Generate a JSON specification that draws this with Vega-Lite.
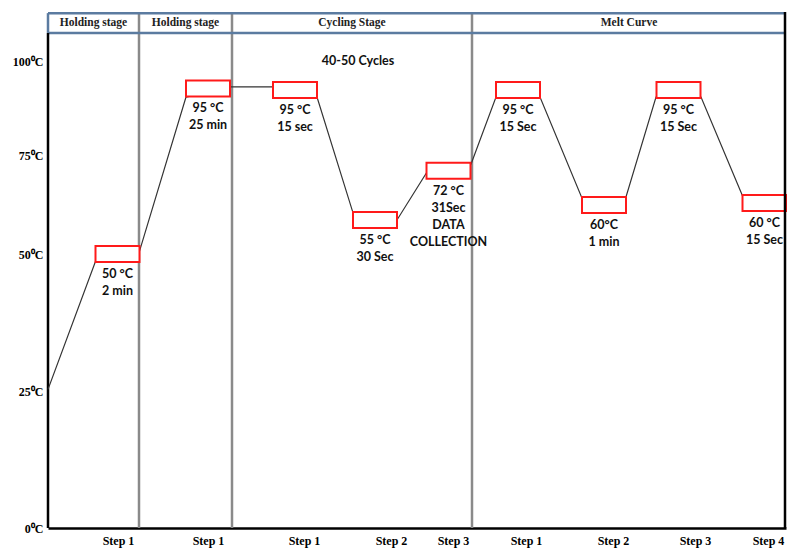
{
  "$schema": "https://vega.github.io/schema/vega-lite/v6.json",
  "width": 738,
  "height": 516,
  "autosize": {"type": "none"},
  "padding": {"left": 48, "top": 12, "right": 1, "bottom": 22},
  "background": "white",
  "config": {"view": {"stroke": null}},
  "datasets": {
    "one": [{"k": 1}],
    "stages": [
      {"start": 0, "end": 91, "mid": 45.5, "stage": "Holding stage"},
      {"start": 91, "end": 184, "mid": 137.5, "stage": "Holding stage"},
      {"start": 184, "end": 424, "mid": 304, "stage": "Cycling Stage"},
      {"start": 424, "end": 738, "mid": 581, "stage": "Melt Curve"}
    ],
    "profile": [
      {"pos": 0, "temp": 25.3},
      {"pos": 48, "temp": 48.9},
      {"pos": 91, "temp": 50.3},
      {"pos": 138, "temp": 90.4},
      {"pos": 182, "temp": 93.1},
      {"pos": 225, "temp": 93.1},
      {"pos": 269, "temp": 90.4},
      {"pos": 305, "temp": 60.4},
      {"pos": 349, "temp": 58.6},
      {"pos": 379, "temp": 70.7},
      {"pos": 423, "temp": 72.7},
      {"pos": 448, "temp": 90.4},
      {"pos": 492, "temp": 90.4},
      {"pos": 534, "temp": 64.1},
      {"pos": 578, "temp": 64.4},
      {"pos": 608, "temp": 90.4},
      {"pos": 653, "temp": 90.4},
      {"pos": 695, "temp": 64.4}
    ],
    "holds": [
      {"pos": 69.5, "temp": 50, "label": "50 °C\n2 min"},
      {"pos": 160, "temp": 92.7, "label": "95 °C\n25 min"},
      {"pos": 247, "temp": 92.3, "label": "95 °C\n15 sec"},
      {"pos": 327, "temp": 58.6, "label": "55 °C\n30 Sec"},
      {"pos": 400.5, "temp": 71, "label": "72 °C\n31Sec\nDATA\nCOLLECTION"},
      {"pos": 470, "temp": 92.3, "label": "95 °C\n15 Sec"},
      {"pos": 556, "temp": 62.4, "label": "60°C\n1 min"},
      {"pos": 630.5, "temp": 92.3, "label": "95 °C\n15 Sec"},
      {"pos": 716.5, "temp": 62.9, "label": "60 °C\n15 Sec"}
    ],
    "notes": [
      {"pos": 310, "temp": 100, "text": "40-50 Cycles"}
    ]
  },
  "layer": [
    {
      "data": {"name": "stages"},
      "transform": [{"filter": "datum.start > 0"}],
      "mark": {"type": "rule", "color": "#8a8a8a", "strokeWidth": 2.5},
      "encoding": {
        "x": {
          "field": "start", "type": "quantitative", "title": null,
          "scale": {"domain": [0, 738], "nice": false, "zero": false},
          "axis": {
            "values": [70, 160, 256, 343, 405, 478, 565, 647, 720],
            "labelExpr": "datum.value < 300 ? 'Step 1' : datum.value < 380 ? 'Step 2' : datum.value < 450 ? 'Step 3' : datum.value < 500 ? 'Step 1' : datum.value < 600 ? 'Step 2' : datum.value < 700 ? 'Step 3' : 'Step 4'",
            "title": null, "grid": false, "ticks": false,
            "domain": true, "domainColor": "#000000", "domainWidth": 2.5,
            "labelFont": "Liberation Serif", "labelFontWeight": "bold", "labelFontSize": 12,
            "labelColor": "#000000", "labelPadding": 7, "labelOverlap": false, "labelBound": false, "labelFlush": false
          }
        },
        "y": {
          "datum": 0, "type": "quantitative", "title": null,
          "scale": {"domain": [0, 50, 75, 100, 113], "range": [516, 242, 143, 49, 0], "nice": false, "zero": false},
          "axis": {
            "values": [0, 25, 50, 75, 100],
            "labelExpr": "datum.value + '⁰C'",
            "title": null, "grid": false, "ticks": false, "domain": false,
            "labelFont": "Liberation Serif", "labelFontWeight": "bold", "labelFontSize": 12,
            "labelColor": "#000000", "labelPadding": 5, "labelOverlap": false, "labelBound": false, "labelFlush": false
          }
        },
        "y2": {"datum": 113}
      }
    },
    {
      "data": {"name": "one"},
      "mark": {"type": "rule", "color": "#5b7ba0", "strokeWidth": 2.5},
      "encoding": {
        "x": {"datum": 0, "type": "quantitative", "title": null},
        "x2": {"datum": 738},
        "y": {"datum": 107.45, "type": "quantitative", "title": null}
      }
    },
    {
      "data": {"name": "one"},
      "mark": {"type": "rule", "color": "#5b7ba0", "strokeWidth": 2.5},
      "encoding": {
        "x": {"datum": 0, "type": "quantitative", "title": null},
        "x2": {"datum": 738},
        "y": {"datum": 112.7, "type": "quantitative", "title": null}
      }
    },
    {
      "data": {"name": "one"},
      "mark": {"type": "rule", "color": "#5b7ba0", "strokeWidth": 2.5},
      "encoding": {
        "x": {"datum": 0, "type": "quantitative", "title": null},
        "y": {"datum": 107.45, "type": "quantitative", "title": null},
        "y2": {"datum": 112.7}
      }
    },
    {
      "data": {"name": "one"},
      "mark": {"type": "rule", "color": "#000000", "strokeWidth": 2.5},
      "encoding": {
        "x": {"datum": 0, "type": "quantitative", "title": null},
        "y": {"datum": 0, "type": "quantitative", "title": null},
        "y2": {"datum": 107.45}
      }
    },
    {
      "data": {"name": "profile"},
      "mark": {"type": "line", "color": "#333333", "strokeWidth": 1.2},
      "encoding": {
        "x": {"field": "pos", "type": "quantitative", "title": null},
        "y": {"field": "temp", "type": "quantitative", "title": null}
      }
    },
    {
      "data": {"name": "holds"},
      "mark": {
        "type": "point",
        "shape": "M-1,-0.364H1V0.364H-1Z",
        "size": 1936,
        "filled": false,
        "fill": "white",
        "fillOpacity": 1,
        "stroke": "#ff1a1a",
        "strokeWidth": 2,
        "opacity": 1
      },
      "encoding": {
        "x": {"field": "pos", "type": "quantitative", "title": null},
        "y": {"field": "temp", "type": "quantitative", "title": null}
      }
    },
    {
      "data": {"name": "holds"},
      "mark": {
        "type": "text", "lineBreak": "\n", "lineHeight": 17,
        "font": "Lato", "fontWeight": "bold", "fontSize": 12.5,
        "color": "#111111", "align": "center", "baseline": "top", "dy": 14
      },
      "encoding": {
        "x": {"field": "pos", "type": "quantitative", "title": null},
        "y": {"field": "temp", "type": "quantitative", "title": null},
        "text": {"field": "label"}
      }
    },
    {
      "data": {"name": "notes"},
      "mark": {
        "type": "text", "font": "Lato", "fontWeight": "bold", "fontSize": 12.5,
        "color": "#111111", "align": "center", "baseline": "middle"
      },
      "encoding": {
        "x": {"field": "pos", "type": "quantitative", "title": null},
        "y": {"field": "temp", "type": "quantitative", "title": null},
        "text": {"field": "text"}
      }
    },
    {
      "data": {"name": "stages"},
      "mark": {
        "type": "text", "font": "Liberation Serif", "fontWeight": "bold", "fontSize": 11.5,
        "color": "#222222", "align": "center", "baseline": "middle"
      },
      "encoding": {
        "x": {"field": "mid", "type": "quantitative", "title": null},
        "y": {"datum": 110.2, "type": "quantitative", "title": null},
        "text": {"field": "stage"}
      }
    },
    {
      "data": {"name": "one"},
      "mark": {"type": "rule", "color": "#000000", "strokeWidth": 2.5},
      "encoding": {
        "x": {"datum": 737, "type": "quantitative", "title": null},
        "y": {"datum": 0, "type": "quantitative", "title": null},
        "y2": {"datum": 113}
      }
    }
  ]
}
